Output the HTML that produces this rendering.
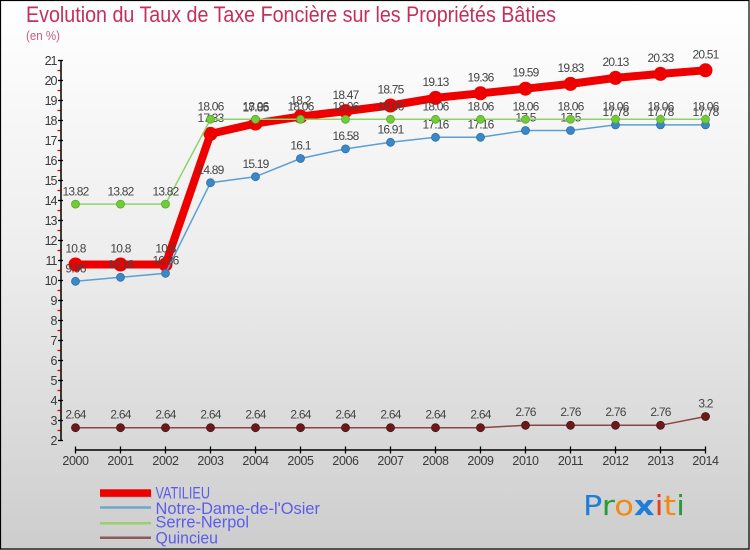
<!DOCTYPE html>
<html>
<head>
<meta charset="utf-8">
<style>
html,body{margin:0;padding:0;}
body{width:750px;height:550px;overflow:hidden;}
svg{display:block;font-family:"Liberation Sans",sans-serif;}
</style>
</head>
<body>
<svg width="750" height="550" viewBox="0 0 750 550" xmlns="http://www.w3.org/2000/svg">
<defs>
<linearGradient id="bg" x1="0" y1="0" x2="0" y2="1">
<stop offset="0" stop-color="#ffffff"/>
<stop offset="0.45" stop-color="#eeeeee"/>
<stop offset="1" stop-color="#cdcdcd"/>
</linearGradient>
</defs>
<rect x="0" y="0" width="750" height="550" fill="url(#bg)"/>
<rect x="0.5" y="0.5" width="748.5" height="548.5" fill="none" stroke="#000" stroke-width="1.2"/>

<!-- title -->
<text x="26" y="22" font-size="22" fill="#c4305c" textLength="530" lengthAdjust="spacingAndGlyphs">Evolution du Taux de Taxe Foncière sur les Propriétés Bâties</text>
<text x="26" y="40" font-size="12.5" fill="#c85a80" textLength="34" lengthAdjust="spacingAndGlyphs">(en %)</text>

<!-- y axis -->
<line x1="61" y1="60.5" x2="61" y2="440.5" stroke="#000" stroke-width="1.5"/>
<g stroke="#000" stroke-width="1.3">
<line x1="58" y1="60.5" x2="63" y2="60.5"/><line x1="58" y1="80.5" x2="63" y2="80.5"/><line x1="58" y1="100.5" x2="63" y2="100.5"/><line x1="58" y1="120.5" x2="63" y2="120.5"/><line x1="58" y1="140.5" x2="63" y2="140.5"/><line x1="58" y1="160.5" x2="63" y2="160.5"/><line x1="58" y1="180.5" x2="63" y2="180.5"/><line x1="58" y1="200.5" x2="63" y2="200.5"/><line x1="58" y1="220.5" x2="63" y2="220.5"/><line x1="58" y1="240.5" x2="63" y2="240.5"/><line x1="58" y1="260.5" x2="63" y2="260.5"/><line x1="58" y1="280.5" x2="63" y2="280.5"/><line x1="58" y1="300.5" x2="63" y2="300.5"/><line x1="58" y1="320.5" x2="63" y2="320.5"/><line x1="58" y1="340.5" x2="63" y2="340.5"/><line x1="58" y1="360.5" x2="63" y2="360.5"/><line x1="58" y1="380.5" x2="63" y2="380.5"/><line x1="58" y1="400.5" x2="63" y2="400.5"/><line x1="58" y1="420.5" x2="63" y2="420.5"/><line x1="58" y1="440.5" x2="63" y2="440.5"/>
</g>
<g stroke="#e00000" stroke-width="1.3">
<line x1="57.5" y1="70.5" x2="60.5" y2="70.5"/><line x1="57.5" y1="90.5" x2="60.5" y2="90.5"/><line x1="57.5" y1="110.5" x2="60.5" y2="110.5"/><line x1="57.5" y1="130.5" x2="60.5" y2="130.5"/><line x1="57.5" y1="150.5" x2="60.5" y2="150.5"/><line x1="57.5" y1="170.5" x2="60.5" y2="170.5"/><line x1="57.5" y1="190.5" x2="60.5" y2="190.5"/><line x1="57.5" y1="210.5" x2="60.5" y2="210.5"/><line x1="57.5" y1="230.5" x2="60.5" y2="230.5"/><line x1="57.5" y1="250.5" x2="60.5" y2="250.5"/><line x1="57.5" y1="270.5" x2="60.5" y2="270.5"/><line x1="57.5" y1="290.5" x2="60.5" y2="290.5"/><line x1="57.5" y1="310.5" x2="60.5" y2="310.5"/><line x1="57.5" y1="330.5" x2="60.5" y2="330.5"/><line x1="57.5" y1="350.5" x2="60.5" y2="350.5"/><line x1="57.5" y1="370.5" x2="60.5" y2="370.5"/><line x1="57.5" y1="390.5" x2="60.5" y2="390.5"/><line x1="57.5" y1="410.5" x2="60.5" y2="410.5"/><line x1="57.5" y1="430.5" x2="60.5" y2="430.5"/>
</g>
<g font-size="12.5" fill="#3a3a3a" text-anchor="end" letter-spacing="-1">
<text x="56.5" y="65">21</text><text x="56.5" y="85">20</text><text x="56.5" y="105">19</text><text x="56.5" y="125">18</text><text x="56.5" y="145">17</text><text x="56.5" y="165">16</text><text x="56.5" y="185">15</text><text x="56.5" y="205">14</text><text x="56.5" y="225">13</text><text x="56.5" y="245">12</text><text x="56.5" y="265">11</text><text x="56.5" y="285">10</text><text x="56.5" y="305">9</text><text x="56.5" y="325">8</text><text x="56.5" y="345">7</text><text x="56.5" y="365">6</text><text x="56.5" y="385">5</text><text x="56.5" y="405">4</text><text x="56.5" y="425">3</text><text x="56.5" y="445">2</text>
</g>

<!-- x axis -->
<line x1="75.5" y1="450" x2="705.5" y2="450" stroke="#000" stroke-width="1.5"/>
<g stroke="#000" stroke-width="1.3">
<line x1="75.5" y1="446.5" x2="75.5" y2="453.5"/><line x1="120.5" y1="446.5" x2="120.5" y2="453.5"/><line x1="165.5" y1="446.5" x2="165.5" y2="453.5"/><line x1="210.5" y1="446.5" x2="210.5" y2="453.5"/><line x1="255.5" y1="446.5" x2="255.5" y2="453.5"/><line x1="300.5" y1="446.5" x2="300.5" y2="453.5"/><line x1="345.5" y1="446.5" x2="345.5" y2="453.5"/><line x1="390.5" y1="446.5" x2="390.5" y2="453.5"/><line x1="435.5" y1="446.5" x2="435.5" y2="453.5"/><line x1="480.5" y1="446.5" x2="480.5" y2="453.5"/><line x1="525.5" y1="446.5" x2="525.5" y2="453.5"/><line x1="570.5" y1="446.5" x2="570.5" y2="453.5"/><line x1="615.5" y1="446.5" x2="615.5" y2="453.5"/><line x1="660.5" y1="446.5" x2="660.5" y2="453.5"/><line x1="705.5" y1="446.5" x2="705.5" y2="453.5"/>
</g>
<g font-size="12.5" fill="#3a3a3a" text-anchor="middle" letter-spacing="-0.4">
<text x="75.5" y="465">2000</text><text x="120.5" y="465">2001</text><text x="165.5" y="465">2002</text><text x="210.5" y="465">2003</text><text x="255.5" y="465">2004</text><text x="300.5" y="465">2005</text><text x="345.5" y="465">2006</text><text x="390.5" y="465">2007</text><text x="435.5" y="465">2008</text><text x="480.5" y="465">2009</text><text x="525.5" y="465">2010</text><text x="570.5" y="465">2011</text><text x="615.5" y="465">2012</text><text x="660.5" y="465">2013</text><text x="705.5" y="465">2014</text>
</g>

<!-- VATILIEU -->
<polyline fill="none" stroke="#ee0000" stroke-width="8" stroke-linejoin="round" points="75.5,264.5 120.5,264.5 165.5,264.5 210.5,133.9 255.5,123.5 300.5,116.5 345.5,111.1 390.5,105.5 435.5,97.9 480.5,93.3 525.5,88.7 570.5,83.9 615.5,77.9 660.5,73.9 705.5,70.3"/>
<g fill="#ee0000">
<circle cx="75.5" cy="264.5" r="7"/><circle cx="120.5" cy="264.5" r="7"/><circle cx="165.5" cy="264.5" r="7"/><circle cx="210.5" cy="133.9" r="7"/><circle cx="255.5" cy="123.5" r="7"/><circle cx="300.5" cy="116.5" r="7"/><circle cx="345.5" cy="111.1" r="7"/><circle cx="390.5" cy="105.5" r="7"/><circle cx="435.5" cy="97.9" r="7"/><circle cx="480.5" cy="93.3" r="7"/><circle cx="525.5" cy="88.7" r="7"/><circle cx="570.5" cy="83.9" r="7"/><circle cx="615.5" cy="77.9" r="7"/><circle cx="660.5" cy="73.9" r="7"/><circle cx="705.5" cy="70.3" r="7"/>
</g>
<g font-size="12" fill="#444" text-anchor="middle" letter-spacing="-0.8">
<text x="75.5" y="252.5">10.8</text><text x="120.5" y="252.5">10.8</text><text x="165.5" y="252.5">10.8</text><text x="210.5" y="122">17.33</text><text x="255.5" y="111.5">17.85</text><text x="300.5" y="104.5">18.2</text><text x="345.5" y="99">18.47</text><text x="390.5" y="93.5">18.75</text><text x="435.5" y="86">19.13</text><text x="480.5" y="81.3">19.36</text><text x="525.5" y="76.7">19.59</text><text x="570.5" y="72">19.83</text><text x="615.5" y="66">20.13</text><text x="660.5" y="62">20.33</text><text x="705.5" y="58.3">20.51</text>
</g>

<!-- Notre-Dame-de-l'Osier -->
<polyline fill="none" stroke="#5b9fd4" stroke-width="1.5" points="75.5,281.3 120.5,277.3 165.5,273.3 210.5,182.7 255.5,176.7 300.5,158.5 345.5,148.9 390.5,142.3 435.5,137.3 480.5,137.3 525.5,130.5 570.5,130.5 615.5,124.9 660.5,124.9 705.5,124.9"/>
<g fill="#3a88c8" stroke="#2f6fa5" stroke-width="0.8">
<circle cx="75.5" cy="281.3" r="4"/><circle cx="120.5" cy="277.3" r="4"/><circle cx="165.5" cy="273.3" r="4"/><circle cx="210.5" cy="182.7" r="4"/><circle cx="255.5" cy="176.7" r="4"/><circle cx="300.5" cy="158.5" r="4"/><circle cx="345.5" cy="148.9" r="4"/><circle cx="390.5" cy="142.3" r="4"/><circle cx="435.5" cy="137.3" r="4"/><circle cx="480.5" cy="137.3" r="4"/><circle cx="525.5" cy="130.5" r="4"/><circle cx="570.5" cy="130.5" r="4"/><circle cx="615.5" cy="124.9" r="4"/><circle cx="660.5" cy="124.9" r="4"/><circle cx="705.5" cy="124.9" r="4"/>
</g>
<g font-size="12" fill="#444" text-anchor="middle" letter-spacing="-0.8">
<text x="75.5" y="272.5">9.96</text><text x="120.5" y="268.5">10.16</text><text x="165.5" y="264.5">10.36</text><text x="210.5" y="174">14.89</text><text x="255.5" y="168">15.19</text><text x="300.5" y="149.5">16.1</text><text x="345.5" y="140">16.58</text><text x="390.5" y="133.5">16.91</text><text x="435.5" y="128.5">17.16</text><text x="480.5" y="128.5">17.16</text><text x="525.5" y="121.5">17.5</text><text x="570.5" y="121.5">17.5</text><text x="615.5" y="116">17.78</text><text x="660.5" y="116">17.78</text><text x="705.5" y="116">17.78</text>
</g>

<!-- Serre-Nerpol -->
<polyline fill="none" stroke="#8fd468" stroke-width="1.5" points="75.5,204.1 120.5,204.1 165.5,204.1 210.5,119.3 255.5,119.3 300.5,119.3 345.5,119.3 390.5,119.3 435.5,119.3 480.5,119.3 525.5,119.3 570.5,119.3 615.5,119.3 660.5,119.3 705.5,119.3"/>
<g fill="#72cc3a" stroke="#58a82a" stroke-width="0.8">
<circle cx="75.5" cy="204.1" r="4"/><circle cx="120.5" cy="204.1" r="4"/><circle cx="165.5" cy="204.1" r="4"/><circle cx="210.5" cy="119.3" r="4"/><circle cx="255.5" cy="119.3" r="4"/><circle cx="300.5" cy="119.3" r="4"/><circle cx="345.5" cy="119.3" r="4"/><circle cx="390.5" cy="119.3" r="4"/><circle cx="435.5" cy="119.3" r="4"/><circle cx="480.5" cy="119.3" r="4"/><circle cx="525.5" cy="119.3" r="4"/><circle cx="570.5" cy="119.3" r="4"/><circle cx="615.5" cy="119.3" r="4"/><circle cx="660.5" cy="119.3" r="4"/><circle cx="705.5" cy="119.3" r="4"/>
</g>
<g font-size="12" fill="#444" text-anchor="middle" letter-spacing="-0.8">
<text x="75.5" y="195.5">13.82</text><text x="120.5" y="195.5">13.82</text><text x="165.5" y="195.5">13.82</text><text x="210.5" y="110.5">18.06</text><text x="255.5" y="110.5">18.06</text><text x="300.5" y="110.5">18.06</text><text x="345.5" y="110.5">18.06</text><text x="390.5" y="110.5">18.06</text><text x="435.5" y="110.5">18.06</text><text x="480.5" y="110.5">18.06</text><text x="525.5" y="110.5">18.06</text><text x="570.5" y="110.5">18.06</text><text x="615.5" y="110.5">18.06</text><text x="660.5" y="110.5">18.06</text><text x="705.5" y="110.5">18.06</text>
</g>

<!-- Quincieu -->
<polyline fill="none" stroke="#8a4646" stroke-width="1.5" points="75.5,427.7 120.5,427.7 165.5,427.7 210.5,427.7 255.5,427.7 300.5,427.7 345.5,427.7 390.5,427.7 435.5,427.7 480.5,427.7 525.5,425.3 570.5,425.3 615.5,425.3 660.5,425.3 705.5,416.5"/>
<g fill="#6b1a1c" stroke="#501214" stroke-width="0.8">
<circle cx="75.5" cy="427.7" r="4"/><circle cx="120.5" cy="427.7" r="4"/><circle cx="165.5" cy="427.7" r="4"/><circle cx="210.5" cy="427.7" r="4"/><circle cx="255.5" cy="427.7" r="4"/><circle cx="300.5" cy="427.7" r="4"/><circle cx="345.5" cy="427.7" r="4"/><circle cx="390.5" cy="427.7" r="4"/><circle cx="435.5" cy="427.7" r="4"/><circle cx="480.5" cy="427.7" r="4"/><circle cx="525.5" cy="425.3" r="4"/><circle cx="570.5" cy="425.3" r="4"/><circle cx="615.5" cy="425.3" r="4"/><circle cx="660.5" cy="425.3" r="4"/><circle cx="705.5" cy="416.5" r="4"/>
</g>
<g font-size="12" fill="#444" text-anchor="middle" letter-spacing="-0.8">
<text x="75.5" y="418.5">2.64</text><text x="120.5" y="418.5">2.64</text><text x="165.5" y="418.5">2.64</text><text x="210.5" y="418.5">2.64</text><text x="255.5" y="418.5">2.64</text><text x="300.5" y="418.5">2.64</text><text x="345.5" y="418.5">2.64</text><text x="390.5" y="418.5">2.64</text><text x="435.5" y="418.5">2.64</text><text x="480.5" y="418.5">2.64</text><text x="525.5" y="416">2.76</text><text x="570.5" y="416">2.76</text><text x="615.5" y="416">2.76</text><text x="660.5" y="416">2.76</text><text x="705.5" y="407.5">3.2</text>
</g>

<!-- legend -->
<rect x="101" y="490.5" width="51" height="7.5" fill="#b0b0b0" opacity="0.6"/>
<rect x="100" y="489.3" width="51" height="7.5" fill="#ee0000"/>
<line x1="100" y1="507.5" x2="151" y2="507.5" stroke="#72a6cc" stroke-width="2.5"/>
<line x1="100" y1="523.3" x2="151" y2="523.3" stroke="#98d070" stroke-width="2.5"/>
<line x1="100" y1="537.8" x2="151" y2="537.8" stroke="#8c5a5a" stroke-width="2.5"/>
<g font-size="17" fill="#5c5cec">
<text x="155.5" y="498.3" textLength="54.5" lengthAdjust="spacingAndGlyphs">VATILIEU</text>
<text x="155.5" y="514" textLength="164.5" lengthAdjust="spacingAndGlyphs">Notre-Dame-de-l'Osier</text>
<text x="155.5" y="527.5" textLength="93.5" lengthAdjust="spacingAndGlyphs">Serre-Nerpol</text>
<text x="155.5" y="543.3" textLength="62.5" lengthAdjust="spacingAndGlyphs">Quincieu</text>
</g>

<!-- Proxiti logo -->
<text x="583" y="515" font-size="28" font-family="'DejaVu Sans','Liberation Sans',sans-serif" textLength="102" lengthAdjust="spacingAndGlyphs"><tspan fill="#1f7fd6">P</tspan><tspan fill="#2a9a3c">r</tspan><tspan fill="#f08a10">o</tspan><tspan fill="#1f7fd6" font-weight="bold">x</tspan><tspan fill="#e8401a">i</tspan><tspan fill="#f08a10">t</tspan><tspan fill="#2a9a3c">i</tspan></text>
</svg>
</body>
</html>
